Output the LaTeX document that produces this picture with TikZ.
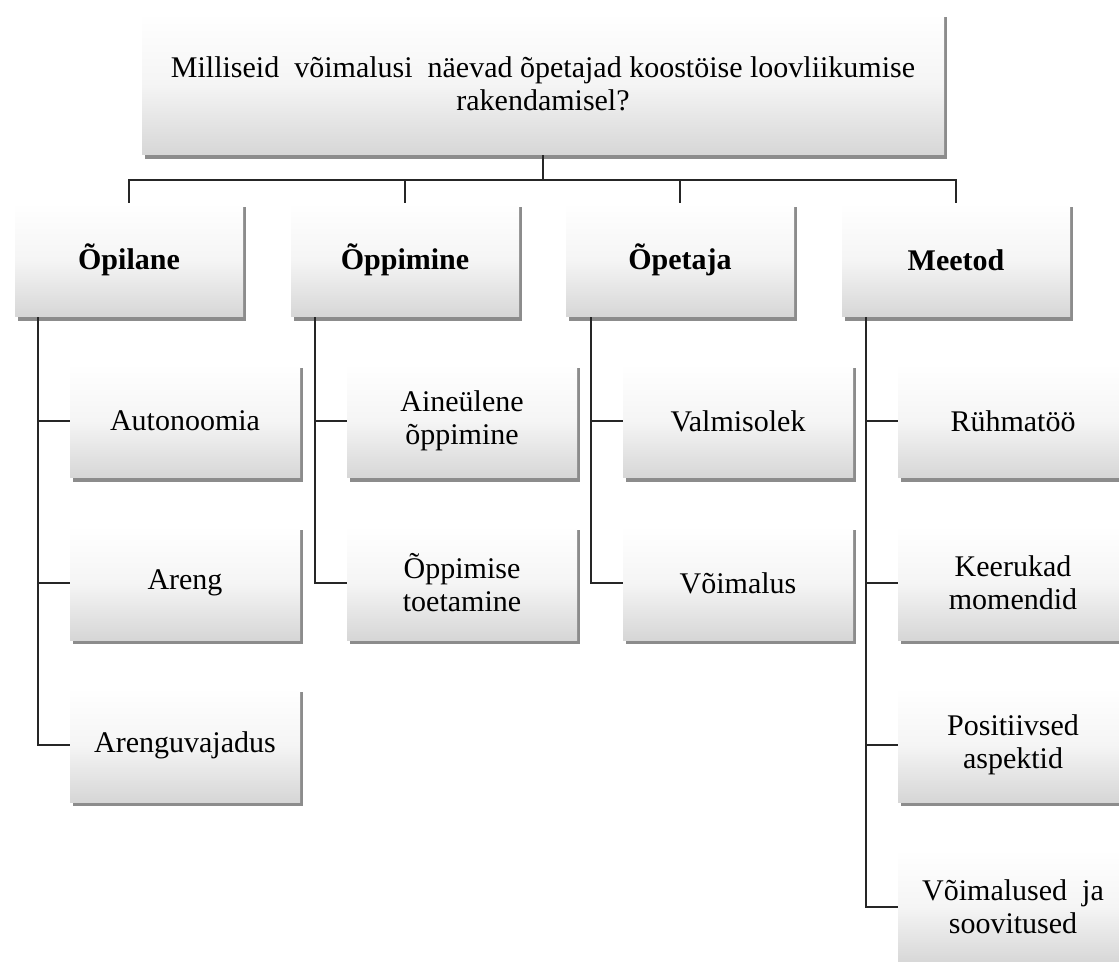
\documentclass[tikz,border=0pt]{standalone}
\usepackage{fontspec}
\setmainfont{Liberation Serif}
\usetikzlibrary{positioning,shadows}

\tikzset{
	kast/.style={top color=white, bottom color=black!16, middle color=white!96!black,
		drop shadow={shadow xshift=1.5pt, shadow yshift=-2pt, opacity=0.45, fill=black},
		align=center, font=\fontsize{15}{16.5}\selectfont, inner sep=2pt},
	peakast/.style={kast, minimum width=114pt, minimum height=57pt, font=\fontsize{15}{16.5}\selectfont\bfseries},
	alamkast/.style={kast, minimum width=115pt, minimum height=57pt},
	joon/.style={draw=black!85, line width=0.75pt}
}

\begin{document}
\begin{tikzpicture}[x=0.5pt,y=-0.5pt]
	\useasboundingbox (0,0) rectangle (1119,962);
	
	% peamine kusimus
	\node[kast, minimum width=401pt, minimum height=71pt] (kusimus) at (543,84)
		{Milliseid \ võimalusi \ näevad õpetajad koostöise loovliikumise\\rakendamisel?};
	\coordinate (siin) at (543,180);
	
	% teemad
	\node[peakast] (opilane)  at (129,260) {Õpilane};
	\node[peakast] (oppimine) at (405,260) {Õppimine};
	\node[peakast] (opetaja)  at (680,260) {Õpetaja};
	\node[peakast] (meetod)   at (956,260) {Meetod};
	
	% alateemad
	\node[alamkast] (autonoomia) at (185,421) {Autonoomia};
	\node[alamkast] (areng)      at (185,583) {Areng};
	\node[alamkast] (vajadus)    at (185,745) {Arenguvajadus};
	
	\node[alamkast] (aineulene)  at (462,421) {Aineülene\\õppimine};
	\node[alamkast] (toetamine)  at (462,583) {Õppimise\\toetamine};
	
	\node[alamkast] (valmisolek) at (738,421) {Valmisolek};
	\node[alamkast] (voimalus)   at (738,583) {Võimalus};
	
	\node[alamkast] (ryhmatoo)   at (1013,421) {Rühmatöö};
	\node[alamkast] (keerukad)   at (1013,583) {Keerukad\\momendid};
	\node[alamkast] (positiivsed) at (1013,745) {Positiivsed\\aspektid};
	\node[alamkast] (soovitused) at (1013,907) {Võimalused \ ja\\soovitused};
	
	% uhendused
	\draw[joon] (kusimus.south) -- (siin);
	\draw[joon] (opilane.north) |- (siin) -| (meetod.north);
	\draw[joon] (oppimine.north) -- (oppimine.north |- siin);
	\draw[joon] (opetaja.north) -- (opetaja.north |- siin);
	
	\draw[joon] ([xshift=-45.5pt]opilane.south) |- (vajadus.west);
	\draw[joon] (autonoomia.west) -- ++(-32,0);
	\draw[joon] (areng.west) -- ++(-32,0);
	
	\draw[joon] ([xshift=-45pt]oppimine.south) |- (toetamine.west);
	\draw[joon] (aineulene.west) -- ++(-32,0);
	
	\draw[joon] ([xshift=-44.5pt]opetaja.south) |- (voimalus.west);
	\draw[joon] (valmisolek.west) -- ++(-32,0);
	
	\draw[joon] ([xshift=-45pt]meetod.south) |- (soovitused.west);
	\draw[joon] (ryhmatoo.west) -- ++(-32,0);
	\draw[joon] (keerukad.west) -- ++(-32,0);
	\draw[joon] (positiivsed.west) -- ++(-32,0);
	
\end{tikzpicture}
\end{document}
